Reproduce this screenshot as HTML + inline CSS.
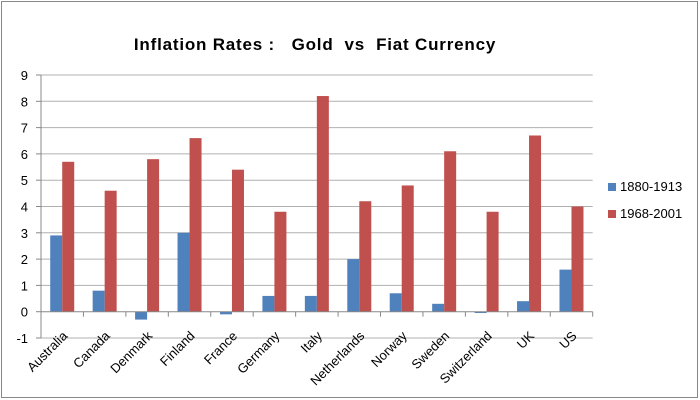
<!DOCTYPE html>
<html><head><meta charset="utf-8"><style>
body{margin:0;background:#fff}
svg{display:block;font-family:"Liberation Sans",sans-serif}
</style></head><body>
<svg id="c" width="700" height="400">
<rect x="1.5" y="1.5" width="696" height="396" fill="#fff" stroke="#888"/>
<text x="315" y="50" text-anchor="middle" font-size="17" font-weight="bold" letter-spacing="0.8" xml:space="preserve">Inflation Rates :   Gold  vs  Fiat Currency</text>
<g id="grid"></g><g id="bars"></g><g id="axes"></g>
<g>
<rect x="608" y="183" width="8" height="8" fill="#4f81bd"/>
<text x="620" y="191" font-size="13">1880-1913</text>
<rect x="608" y="210" width="8" height="8" fill="#c0504d"/>
<text x="620" y="218" font-size="13">1968-2001</text>
</g>
</svg>
<script>
const categories=["Australia","Canada","Denmark","Finland","France","Germany","Italy","Netherlands","Norway","Sweden","Switzerland","UK","US"];
const gold=[2.9,0.8,-0.3,3.0,-0.1,0.6,0.6,2.0,0.7,0.3,-0.05,0.4,1.6];
const fiat=[5.7,4.6,5.8,6.6,5.4,3.8,8.2,4.2,4.8,6.1,3.8,6.7,4.0];
const yTicks=[-1,0,1,2,3,4,5,6,7,8,9];
const NS="http://www.w3.org/2000/svg";
const L=41,R=592.7,T=75,B=338,yMin=-1,yMax=9;
const y=v=>B-(v-yMin)/(yMax-yMin)*(B-T);
const band=(R-L)/categories.length;
const x=i=>L+i*band;
function mk(tag,attrs,parent){const e=document.createElementNS(NS,tag);for(const k in attrs)e.setAttribute(k,attrs[k]);document.getElementById(parent).appendChild(e);return e;}
yTicks.forEach(t=>{
 if(t!==0){const g=mk('line',{x1:L,x2:R,y1:y(t),y2:y(t),stroke:'#b0b0b0','stroke-width':1},'grid');
 
 }
 const tk=mk('line',{x1:L-5,x2:L,y1:y(t),y2:y(t),stroke:'#888'},'axes');
 
 
 const lb=mk('text',{x:L-13,y:y(t)+5,'text-anchor':'end','font-size':13},'axes');lb.textContent=t;
 
 
});
const ya=mk('line',{x1:L,x2:L,y1:T,y2:B,stroke:'#888'},'axes');


const xa=mk('line',{x1:L,x2:R,y1:y(0),y2:y(0),stroke:'#888'},'axes');


const bw=12;
categories.forEach((c,i)=>{
 const cx=x(i)+band/2;
 const tk=mk('line',{x1:x(i+1),x2:x(i+1),y1:y(0),y2:y(0)+5,stroke:'#888'},'axes');
 
 
 [[gold,'#4f81bd',-bw,'bar-1880-1913-'],[fiat,'#c0504d',0,'bar-1968-2001-']].forEach(([arr,col,off,nm])=>{
  const v=arr[i];const r=mk('rect',{x:cx+off,y:Math.min(y(v),y(0)),width:bw,height:Math.max(Math.abs(y(v)-y(0)),1),fill:col},'bars');
  
  
 });
 const ax=cx+6, ay=y(0)+25;
 const lb=mk('text',{x:ax,y:ay,'text-anchor':'end','font-size':13,transform:`rotate(-45 ${ax} ${ay})`},'axes');lb.textContent=c;
 
 
});
</script>
</body></html>
